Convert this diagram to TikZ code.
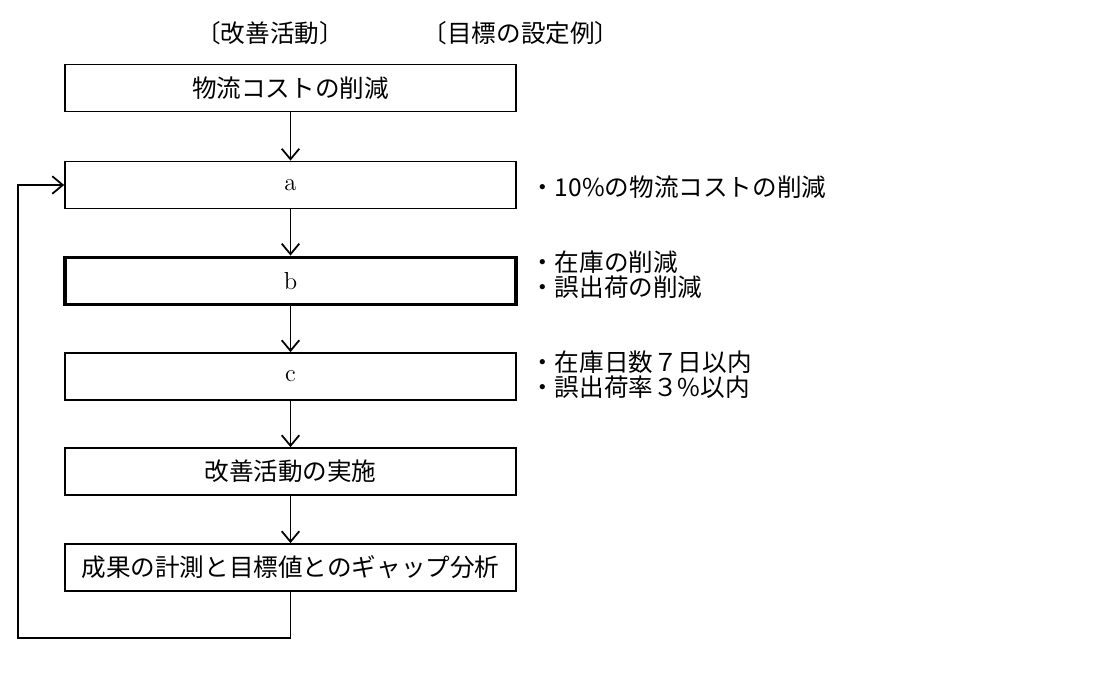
\documentclass[tikz,border=0pt]{standalone}
\usepackage{fontspec}
\newfontfamily\jp{Noto Sans CJK JP}
\usetikzlibrary{arrows.meta}
\tikzset{
  stage/.style={draw,line width=1pt,minimum width=9.02cm,minimum height=0.94cm,
    inner sep=0pt,font=\jp\fontsize{14}{16}\selectfont},
  goal/.style={anchor=west,inner sep=0pt,font=\jp\fontsize{14}{16}\selectfont},
  flow/.style={line width=1pt,-{Straight Barb[length=6pt,width=10pt]}}
}
\begin{document}
\begin{tikzpicture}[x=0.02cm,y=-0.02cm]
   \useasboundingbox (0,0) rectangle (1113,691);
   % headings
   \node[goal,anchor=center] (h1) at (270,33) {〔改善活動〕};
   \node[goal,anchor=center] (h2) at (521,33) {〔目標の設定例〕};
   % steps
   \node[stage] (s0) at (290.5,88) {物流コストの削減};
   \node[stage] (sa) at (290.5,185) {\fontsize{14}{16}\rmfamily a};
   \node[stage,line width=2.2pt] (sb) at (290.5,281) {\fontsize{14}{16}\rmfamily b};
   \node[stage] (sc) at (290.5,376.5) {\fontsize{14}{16}\rmfamily c};
   \node[stage] (s4) at (290.5,471.5) {改善活動の実施};
   \node[stage] (s5) at (290.5,567.5) {成果の計測と目標値とのギャップ分析};
   % goals
   \node[goal] (ga) at (530,187) {・10\%の物流コストの削減};
   \node[goal] (gb1) at (530,262) {・在庫の削減};
   \node[goal] (gb2) at (530,287) {・誤出荷の削減};
   \node[goal] (gc1) at (530,362) {・在庫日数７日以内};
   \node[goal] (gc2) at (530,387) {・誤出荷率３\%以内};
   % arrows
   \draw[flow] (s0) -- (sa);
   \draw[flow] (sa) -- (sb);
   \draw[flow] (sb) -- (sc);
   \draw[flow] (sc) -- (s4);
   \draw[flow] (s4) -- (s5);
   \coordinate (lb) at (18,638);
   \draw[flow] (s5.south) -- (s5.south |- lb) -- (lb) |- (sa.west);
\end{tikzpicture}
\end{document}
